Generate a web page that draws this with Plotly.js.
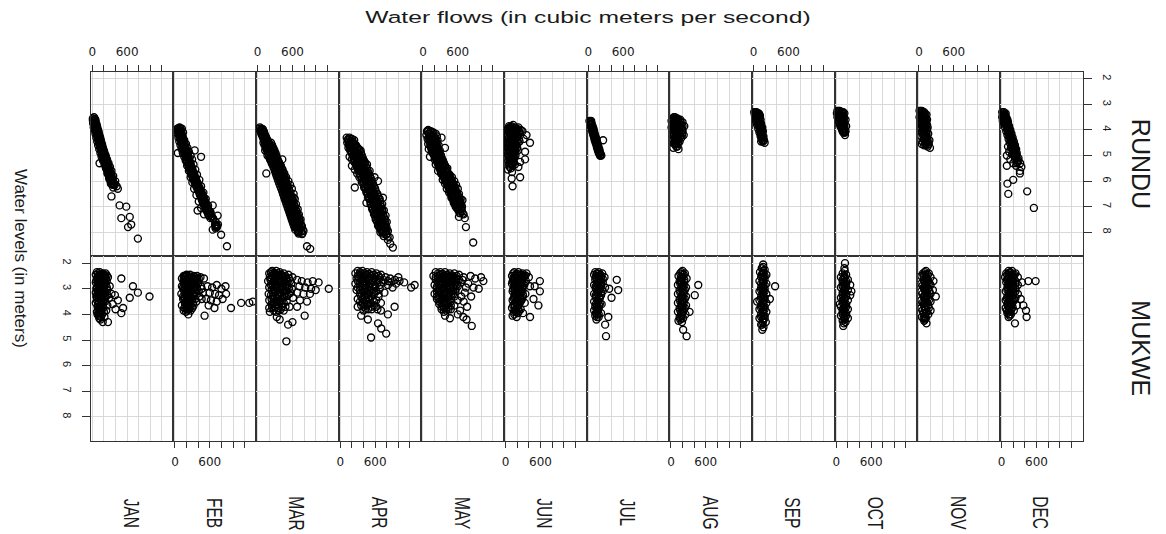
<!DOCTYPE html>
<html>
<head>
<meta charset="utf-8">
<script src="https://cdn.plot.ly/plotly-3.0.1.min.js"></script>
<style>
  html, body { margin: 0; padding: 0; background: #fff; overflow: hidden; }
  #wrap { width: 1166px; height: 534px; overflow: hidden; }
</style>
</head>
<body>
<div id="wrap"><div id="plot"></div></div>
<script>
// Monthly water flow (m3/s) against water level (m) at two gauging stations.
const MONTHS = ['JAN', 'FEB', 'MAR', 'APR', 'MAY', 'JUN', 'JUL', 'AUG', 'SEP', 'OCT', 'NOV', 'DEC'];
const STATIONS = ['RUNDU', 'MUKWE'];
const FLOW_TICKS = [0, 200, 400, 600, 800, 1000, 1200];
const FLOW_TICK_TEXT = ['0', '', '', '600', '', '', ''];
const LEVEL_TICKS = [2, 3, 4, 5, 6, 7, 8];

// [flow, level] pairs
const RUNDU_JAN = [[10,3.55],[30,3.5],[50,3.6],[20,3.65],[45,3.7],[15,3.75],[60,3.75],[35,3.8],[70,3.85],[25,3.9],[55,3.9],[85,3.95],[40,4.0],[75,4.05],[100,4.1],[55,4.15],[90,4.2],[120,4.25],[70,4.3],[105,4.35],[140,4.4],[85,4.45],[125,4.5],[160,4.55],[100,4.6],[145,4.65],[180,4.7],[120,4.75],[165,4.8],[205,4.85],[140,4.9],[190,4.95],[230,5.0],[160,5.05],[215,5.1],[255,5.15],[185,5.2],[240,5.25],[125,5.3],[280,5.3],[210,5.35],[265,5.4],[305,5.45],[235,5.5],[290,5.55],[330,5.6],[260,5.7],[320,5.75],[360,5.8],[290,5.9],[350,5.95],[395,6.0],[320,6.1],[380,6.1],[420,6.2],[360,6.25],[440,6.3],[330,6.6],[385,6.15],[470,6.95],[585,7.0],[500,7.45],[645,7.4],[670,7.7],[615,7.8],[785,8.25],
  [10,3.62],[50,3.58],[20,3.72],[60,3.68],[35,3.82],[75,3.78],[45,3.92],[85,3.88],[60,4.02],[100,4.0],[70,4.12],[110,4.08],[80,4.22],[120,4.18],[95,4.32],[135,4.28],[105,4.42],[145,4.38],[115,4.52],[155,4.48],[130,4.62],[170,4.58],[140,4.72],[180,4.68],[155,4.82],[195,4.78],[165,4.92],[205,4.88],[180,5.02],[220,4.98],[195,5.12],[235,5.08],[205,5.22],[245,5.18],[220,5.32],[260,5.28],[235,5.42],[275,5.38],[245,5.52],[285,5.48],[260,5.62],[300,5.58],[275,5.72],[315,5.68],[290,5.82],[330,5.78],[300,5.92],[340,5.88],[315,6.02],[355,5.98],[330,6.12],[370,6.08],
  [35,3.65],[48,3.75],[60,3.85],[72,3.95],[85,4.05],[95,4.15],[108,4.25],[120,4.35],[130,4.45],[142,4.55],[155,4.65],[168,4.75],[180,4.85],[192,4.95],[208,5.05],[220,5.15],[232,5.25],[248,5.35],[260,5.45],[272,5.55],[288,5.65],[302,5.75],[315,5.85],[328,5.95],[342,6.05],[360,6.15]];
const RUNDU_FEB = [[40,3.95],[80,3.9],[120,3.95],[30,4.0],[60,4.05],[100,4.05],[140,4.1],[45,4.15],[85,4.2],[125,4.25],[60,4.3],[105,4.35],[160,4.4],[75,4.45],[130,4.5],[190,4.55],[95,4.6],[150,4.65],[215,4.7],[115,4.75],[175,4.8],[240,4.85],[135,4.9],[200,4.95],[270,5.0],[160,5.05],[225,5.1],[295,5.15],[185,5.2],[250,5.3],[320,5.35],[210,5.4],[280,5.5],[350,5.55],[240,5.6],[310,5.7],[380,5.75],[270,5.85],[340,5.9],[420,5.95],[300,6.05],[370,6.1],[450,6.2],[330,6.3],[410,6.35],[490,6.45],[370,6.55],[450,6.6],[530,6.7],[410,6.8],[490,6.85],[570,6.95],[450,7.05],[530,7.1],[610,7.2],[500,7.3],[580,7.35],[650,7.45],[700,7.6],[720,7.75],[700,7.8],[740,7.7],[340,4.8],[450,5.05],[50,4.9],[390,7.15],[650,6.95],[735,7.35],[795,8.1],[895,8.55],[650,7.9],
  [50,3.95],[100,3.97],[60,4.05],[110,4.07],[70,4.15],[120,4.17],[85,4.25],[135,4.27],[95,4.35],[145,4.37],[105,4.45],[155,4.47],[120,4.55],[170,4.57],[130,4.65],[180,4.67],[145,4.75],[195,4.77],[155,4.85],[205,4.87],[170,4.95],[220,4.97],[185,5.05],[235,5.07],[200,5.15],[250,5.17],[210,5.25],[260,5.27],[225,5.35],[275,5.37],[240,5.45],[290,5.47],[255,5.55],[305,5.57],[270,5.65],[320,5.67],[285,5.75],[335,5.77],[305,5.85],[355,5.87],[320,5.95],[370,5.97],[340,6.05],[390,6.07],[355,6.15],[405,6.17],[375,6.25],[425,6.27],[395,6.35],[445,6.37],[415,6.45],[465,6.47],[430,6.55],[480,6.57],[450,6.65],[500,6.67],[465,6.75],[515,6.77],[485,6.85],[535,6.87],[500,6.95],[550,6.97],[520,7.05],[570,7.07],[540,7.15],[590,7.17],[565,7.25],[615,7.27],[585,7.35],[635,7.37],[610,7.45],[660,7.47],[690,7.7],[715,7.72],[705,7.78],[725,7.8],[700,7.85],
  [75,3.92],[85,4.02],[95,4.12],[110,4.22],[120,4.32],[130,4.42],[145,4.52],[155,4.62],[170,4.72],[180,4.82],[195,4.92],[210,5.02],[225,5.12],[235,5.22],[250,5.32],[265,5.42],[280,5.52],[295,5.62],[310,5.72],[330,5.82],[345,5.92],[365,6.02],[380,6.12],[400,6.22],[420,6.32],[440,6.42],[455,6.52],[475,6.62],[490,6.72],[510,6.82],[525,6.92],[545,7.02],[565,7.12],[590,7.22],[610,7.32],[635,7.42]];
const RUNDU_MAR = [[40,3.9],[70,3.95],[50,4.0],[90,4.05],[60,4.1],[110,4.15],[75,4.2],[130,4.25],[95,4.3],[150,4.35],[110,4.4],[175,4.45],[130,4.5],[200,4.55],[150,4.6],[230,4.65],[170,4.7],[260,4.75],[130,4.8],[200,4.85],[290,4.9],[225,4.95],[170,5.0],[260,5.05],[320,5.1],[215,5.15],[290,5.2],[360,5.25],[250,5.3],[330,5.35],[400,5.4],[280,5.45],[360,5.5],[430,5.55],[150,5.7],[310,5.6],[390,5.65],[460,5.7],[340,5.75],[420,5.8],[490,5.85],[370,5.9],[450,5.95],[530,6.0],[400,6.05],[480,6.1],[560,6.15],[430,6.2],[510,6.25],[590,6.3],[450,6.4],[540,6.45],[620,6.5],[480,6.6],[570,6.65],[640,6.7],[510,6.8],[600,6.85],[660,6.9],[540,7.0],[630,7.05],[690,7.1],[560,7.2],[650,7.25],[710,7.3],[590,7.4],[680,7.45],[740,7.5],[620,7.6],[700,7.65],[760,7.75],[650,7.8],[730,7.85],[790,7.95],[700,8.0],[770,8.05],[425,5.15],[620,6.65],[850,8.55],[905,8.65],
  [30,3.95],[90,3.97],[50,4.05],[110,4.07],[65,4.15],[125,4.17],[85,4.25],[145,4.27],[105,4.35],[165,4.37],[125,4.45],[185,4.47],[145,4.55],[205,4.57],[165,4.65],[225,4.67],[185,4.75],[245,4.77],[205,4.85],[265,4.87],[220,4.95],[280,4.97],[235,5.05],[295,5.07],[250,5.15],[310,5.17],[270,5.25],[330,5.27],[285,5.35],[345,5.37],[310,5.45],[370,5.47],[325,5.55],[385,5.57],[340,5.65],[400,5.67],[355,5.75],[415,5.77],[370,5.85],[430,5.87],[385,5.95],[445,5.97],[400,6.05],[460,6.07],[415,6.15],[475,6.17],[435,6.25],[495,6.27],[450,6.35],[510,6.37],[465,6.45],[525,6.47],[480,6.55],[540,6.57],[495,6.65],[555,6.67],[510,6.75],[570,6.77],[525,6.85],[585,6.87],[540,6.95],[600,6.97],[555,7.05],[615,7.07],[570,7.15],[630,7.17],[585,7.25],[645,7.27],[600,7.35],[660,7.37],[615,7.45],[675,7.47],[630,7.55],[690,7.57],[645,7.65],[705,7.67],[660,7.75],[720,7.77],[675,7.85],[735,7.87],[690,7.95],[750,7.97],[705,8.05],[765,8.07],
  [100,4.5],[230,4.5],[120,4.6],[250,4.6],[140,4.7],[270,4.7],[160,4.8],[290,4.8],[178,4.9],[308,4.9],[193,5.0],[323,5.0],[207,5.1],[337,5.1],[225,5.2],[355,5.2],[243,5.3],[373,5.3],[263,5.4],[393,5.4],[283,5.5],[413,5.5],[297,5.6],[427,5.6],[313,5.7],[443,5.7],[327,5.8],[457,5.8],[343,5.9],[473,5.9],[357,6.0],[487,6.0],[373,6.1],[503,6.1],[390,6.2],[520,6.2],[407,6.3],[537,6.3],[423,6.4],[553,6.4],[437,6.5],[567,6.5],[453,6.6],[583,6.6],[467,6.7],[597,6.7],[483,6.8],[613,6.8],[497,6.9],[627,6.9],[513,7.0],[643,7.0],[527,7.1],[657,7.1],[543,7.2],[673,7.2],[557,7.3],[687,7.3],[573,7.4],[703,7.4],[587,7.5],[717,7.5],[603,7.6],[733,7.6],[617,7.7],[747,7.7],[633,7.8],[763,7.8],[647,7.9],[777,7.9],
  [165,4.52],[205,4.72],[243,4.92],[272,5.12],[308,5.32],[348,5.52],[378,5.72],[408,5.92],[438,6.12],[472,6.32],[502,6.52],[532,6.72],[562,6.92],[592,7.12],[622,7.32],[652,7.52],[682,7.72],[712,7.92]];
const RUNDU_APR = [[110,4.3],[160,4.3],[200,4.35],[130,4.4],[240,4.4],[180,4.45],[120,4.5],[220,4.5],[150,4.55],[260,4.6],[190,4.65],[140,4.7],[300,4.7],[230,4.75],[170,4.8],[350,4.8],[270,4.85],[200,4.9],[310,4.95],[390,5.2],[240,5.0],[160,5.05],[350,5.05],[280,5.1],[200,5.15],[320,5.2],[420,5.25],[240,5.25],[360,5.3],[280,5.35],[460,5.35],[200,5.4],[400,5.45],[320,5.5],[505,5.6],[250,5.55],[440,5.6],[360,5.65],[590,5.85],[290,5.7],[480,5.75],[400,5.8],[250,6.25],[330,5.85],[520,5.9],[440,5.95],[650,6.0],[370,6.05],[560,6.1],[480,6.15],[410,6.25],[600,6.3],[520,6.35],[450,6.45],[640,6.5],[560,6.55],[735,6.65],[480,6.65],[680,6.7],[600,6.75],[450,6.85],[520,6.9],[720,6.9],[640,7.0],[550,7.1],[750,7.15],[670,7.2],[580,7.3],[780,7.35],[700,7.4],[610,7.5],[800,7.6],[730,7.65],[650,7.75],[760,7.85],[820,7.95],[690,8.0],[790,8.1],[850,8.2],[820,8.3],[860,8.45],[905,8.6],
  [135,4.35],[205,4.37],[145,4.45],[215,4.47],[165,4.55],[235,4.57],[185,4.65],[255,4.67],[215,4.75],[285,4.77],[235,4.85],[305,4.87],[250,4.95],[320,4.97],[265,5.05],[335,5.07],[285,5.15],[355,5.17],[300,5.25],[370,5.27],[315,5.35],[385,5.37],[330,5.45],[400,5.47],[350,5.55],[420,5.57],[365,5.65],[435,5.67],[385,5.75],[455,5.77],[405,5.85],[475,5.87],[420,5.95],[490,5.97],[435,6.05],[505,6.07],[455,6.15],[525,6.17],[470,6.25],[540,6.27],[490,6.35],[560,6.37],[505,6.45],[575,6.47],[525,6.55],[595,6.57],[540,6.65],[610,6.67],[555,6.75],[625,6.77],[570,6.85],[640,6.87],[580,6.95],[650,6.97],[595,7.05],[665,7.07],[610,7.15],[680,7.17],[620,7.25],[690,7.27],[635,7.35],[705,7.37],[650,7.45],[720,7.47],[660,7.55],[730,7.57],[675,7.65],[745,7.67],[690,7.75],[760,7.77],[705,7.85],[775,7.87],[715,7.95],[785,7.97],[730,8.05],[800,8.07],[745,8.15],[815,8.17],
  [150,4.6],[270,4.6],[170,4.7],[300,4.7],[190,4.8],[330,4.8],[200,4.9],[356,4.9],[212,5.0],[372,5.0],[230,5.1],[390,5.1],[248,5.2],[408,5.2],[262,5.3],[422,5.3],[278,5.4],[438,5.4],[295,5.5],[455,5.5],[312,5.6],[472,5.6],[330,5.7],[490,5.7],[350,5.8],[510,5.8],[368,5.9],[528,5.9],[382,6.0],[542,6.0],[400,6.1],[560,6.1],[418,6.2],[578,6.2],[435,6.3],[595,6.3],[452,6.4],[612,6.4],[470,6.5],[630,6.5],[488,6.6],[648,6.6],[502,6.7],[662,6.7],[518,6.8],[678,6.8],[530,6.9],[690,6.9],[542,7.0],[702,7.0],[558,7.1],[718,7.1],[575,7.2],[725,7.2],[590,7.3],[735,7.3],[605,7.4],[750,7.4],[620,7.5],[760,7.5],[635,7.6],[770,7.6],[655,7.7],[780,7.7],[670,7.8],[795,7.8],[690,7.9],[800,7.9],
  [190,4.52],[235,4.72],[278,4.92],[310,5.12],[342,5.32],[375,5.52],[410,5.72],[448,5.92],[480,6.12],[515,6.32],[550,6.52],[582,6.72],[610,6.92],[638,7.12],[662,7.32],[690,7.52],[718,7.72],[745,7.92]];
const RUNDU_MAY = [[90,4.0],[70,4.05],[130,4.05],[180,4.1],[100,4.15],[220,4.15],[60,4.2],[150,4.2],[240,4.25],[110,4.3],[200,4.3],[80,4.35],[170,4.4],[250,4.4],[120,4.45],[210,4.5],[90,4.55],[160,4.6],[270,4.6],[130,4.65],[230,4.7],[100,4.75],[190,4.8],[290,4.8],[150,4.85],[250,4.9],[180,4.95],[310,5.0],[120,5.05],[220,5.05],[280,5.1],[200,5.15],[340,5.2],[250,5.25],[310,5.3],[220,5.35],[380,5.4],[280,5.45],[420,5.5],[340,5.55],[260,5.6],[400,5.65],[310,5.7],[460,5.75],[370,5.8],[500,5.85],[420,5.9],[340,5.95],[540,6.0],[450,6.05],[380,6.1],[570,6.15],[480,6.2],[410,6.3],[600,6.3],[510,6.35],[450,6.45],[620,6.5],[540,6.55],[490,6.65],[650,6.7],[570,6.75],[530,6.85],[680,6.75],[620,6.95],[580,7.05],[660,7.1],[640,7.25],[700,7.3],[620,7.4],[720,7.45],[320,4.3],[380,4.7],[740,7.8],[865,8.4],
  [90,4.05],[150,4.07],[105,4.15],[165,4.17],[120,4.25],[180,4.27],[130,4.35],[190,4.37],[140,4.45],[200,4.47],[150,4.55],[210,4.57],[160,4.65],[220,4.67],[170,4.75],[230,4.77],[190,4.85],[250,4.87],[210,4.95],[270,4.97],[230,5.05],[290,5.07],[250,5.15],[310,5.17],[270,5.25],[330,5.27],[285,5.35],[345,5.37],[300,5.45],[360,5.47],[320,5.55],[380,5.57],[340,5.65],[400,5.67],[360,5.75],[420,5.77],[380,5.85],[440,5.87],[405,5.95],[465,5.97],[425,6.05],[485,6.07],[445,6.15],[505,6.17],[465,6.25],[525,6.27],[480,6.35],[540,6.37],[500,6.45],[560,6.47],[515,6.55],[575,6.57],[530,6.65],[590,6.67],[550,6.75],[610,6.77],[565,6.85],[625,6.87],[580,6.95],[640,6.97],[595,7.05],[655,7.07],[610,7.15],[670,7.17],[630,7.25],[685,7.27],
  [100,4.3],[210,4.3],[110,4.4],[220,4.4],[120,4.5],[230,4.5],[130,4.6],[240,4.6],[140,4.7],[250,4.7],[155,4.8],[265,4.8],[175,4.9],[285,4.9],[195,5.0],[305,5.0],[215,5.1],[325,5.1],[235,5.2],[345,5.2],[253,5.3],[363,5.3],[267,5.4],[377,5.4],[285,5.5],[395,5.5],[305,5.6],[415,5.6],[325,5.7],[435,5.7],[345,5.8],[455,5.8],[367,5.9],[477,5.9],[390,6.0],[500,6.0],[410,6.1],[520,6.1],[430,6.2],[540,6.2],[447,6.3],[557,6.3],[465,6.4],[575,6.4],[483,6.5],[593,6.5],[497,6.6],[607,6.6],[515,6.7],[625,6.7],[533,6.8],[643,6.8],[547,6.9],[657,6.9],[563,7.0],[673,7.0],
  [155,4.32],[175,4.52],[195,4.72],[230,4.92],[270,5.12],[308,5.32],[340,5.52],[380,5.72],[422,5.92],[465,6.12],[502,6.32],[538,6.52],[570,6.72],[602,6.92],[632,7.12]];
const RUNDU_JUN = [[130,3.8],[60,3.85],[100,3.85],[170,3.9],[220,3.9],[40,3.95],[80,3.95],[140,4.0],[200,4.0],[260,4.0],[50,4.05],[110,4.1],[170,4.1],[230,4.15],[30,4.2],[80,4.2],[140,4.25],[200,4.3],[50,4.35],[110,4.35],[170,4.4],[240,4.45],[70,4.5],[130,4.5],[40,4.6],[190,4.6],[100,4.65],[150,4.75],[60,4.8],[210,4.8],[110,4.9],[40,4.95],[170,5.0],[80,5.05],[130,5.15],[50,5.2],[100,5.3],[160,5.35],[70,5.45],[220,5.45],[40,5.55],[110,5.65],[360,4.2],[420,4.5],[335,4.85],[335,5.15],[250,5.85],[105,5.9],[120,6.2],[290,4.05],[310,4.35],[250,5.25],
  [70,3.9],[120,3.9],[190,3.95],[30,4.0],[90,4.0],[160,4.05],[230,4.05],[60,4.1],[130,4.15],[200,4.2],[40,4.25],[100,4.25],[170,4.3],[230,4.35],[70,4.4],[140,4.4],[40,4.45],[100,4.5],[170,4.55],[60,4.6],[130,4.6],[200,4.7],[80,4.7],[40,4.75],[120,4.8],[170,4.85],[70,4.9],[140,4.95],[50,5.0],[100,5.0],[120,5.1],[70,5.15],[90,5.2],[140,5.25],[60,5.35],[120,5.4],[90,5.5],
  [90,3.92],[150,3.95],[210,3.98],[60,4.02],[120,4.05],[180,4.08],[240,4.1],[90,4.15],[150,4.18],[210,4.25],[60,4.28],[120,4.3],[180,4.35],[90,4.38],[150,4.45],[210,4.48],[60,4.52],[120,4.55],[180,4.62],[90,4.62],[150,4.68],[60,4.68],[110,4.75],[170,4.78],[80,4.82],[140,4.88],[100,4.95],[60,5.05],[150,5.05],[100,5.12],[80,5.28],[120,5.32]];
const RUNDU_JUL = [[20,3.65],[50,3.65],[30,3.7],[60,3.75],[40,3.8],[75,3.85],[50,3.9],[90,3.95],[60,4.0],[100,4.05],[75,4.1],[110,4.15],[85,4.2],[125,4.25],[100,4.3],[140,4.35],[110,4.4],[150,4.45],[125,4.5],[165,4.55],[140,4.6],[175,4.65],[150,4.7],[190,4.75],[165,4.8],[200,4.85],[180,4.9],[215,4.95],[200,5.0],[225,5.0],[255,4.4],
  [35,3.68],[45,3.75],[55,3.82],[65,3.9],[70,3.95],[80,4.0],[90,4.08],[95,4.15],[105,4.2],[115,4.28],[120,4.35],[130,4.42],[140,4.5],[150,4.55],[155,4.62],[165,4.7],[175,4.78],[185,4.85],[195,4.92],[210,5.0],
  [45,3.7],[55,3.78],[68,3.87],[78,3.97],[88,4.03],[100,4.12],[110,4.22],[122,4.3],[132,4.38],[142,4.47],[152,4.57],[162,4.66],[172,4.74],[182,4.82],[192,4.9]];
const RUNDU_AUG = [[70,3.5],[30,3.55],[110,3.55],[160,3.6],[10,3.65],[60,3.65],[130,3.7],[200,3.7],[40,3.75],[100,3.8],[170,3.8],[230,3.85],[10,3.9],[70,3.9],[140,3.95],[200,4.0],[40,4.0],[110,4.05],[170,4.1],[20,4.1],[80,4.15],[220,4.2],[140,4.2],[50,4.25],[110,4.3],[180,4.3],[30,4.4],[80,4.4],[150,4.45],[60,4.55],[120,4.55],[90,4.65],[130,4.75],[40,4.7],
  [50,3.5],[90,3.55],[130,3.6],[20,3.6],[80,3.7],[170,3.7],[20,3.75],[60,3.8],[140,3.8],[200,3.85],[40,3.85],[100,3.9],[170,3.95],[20,3.95],[60,4.05],[140,4.05],[200,4.1],[100,4.15],[30,4.2],[160,4.25],[70,4.3],[130,4.35],[100,4.45],[50,4.5],[90,4.55],[110,4.65],
  [90,3.6],[50,3.7],[110,3.72],[150,3.75],[80,3.82],[120,3.88],[180,3.9],[50,3.95],[110,3.98],[80,4.02],[150,4.0],[130,4.12],[50,4.15],[90,4.22],[190,4.2],[120,4.25],[60,4.35],[100,4.38],[130,4.45],[80,4.5]];
const RUNDU_SEP = [[10,3.3],[50,3.3],[90,3.35],[20,3.4],[70,3.45],[110,3.45],[30,3.55],[80,3.55],[120,3.6],[40,3.65],[90,3.7],[130,3.75],[60,3.8],[110,3.85],[150,3.9],[80,3.95],[130,4.0],[160,4.05],[100,4.1],[150,4.15],[120,4.25],[170,4.25],[140,4.35],[180,4.4],[130,4.45],[190,4.5],
  [30,3.3],[70,3.35],[40,3.4],[100,3.4],[50,3.5],[90,3.5],[60,3.6],[100,3.6],[70,3.7],[110,3.75],[80,3.8],[130,3.85],[100,3.9],[110,4.0],[140,4.05],[120,4.1],[130,4.2],[160,4.3],[150,4.4],[160,4.45],
  [40,3.35],[80,3.42],[60,3.48],[100,3.55],[70,3.62],[100,3.68],[90,3.78],[120,3.8],[100,3.85],[120,3.92],[140,3.95],[120,4.05],[140,4.15],[150,4.25],[140,4.3]];
const RUNDU_OCT = [[20,3.25],[60,3.25],[100,3.3],[10,3.35],[140,3.35],[50,3.4],[90,3.45],[130,3.5],[20,3.5],[70,3.55],[160,3.6],[110,3.6],[40,3.65],[90,3.7],[140,3.75],[60,3.8],[120,3.85],[170,3.85],[80,3.9],[140,3.95],[100,4.0],[160,4.05],[120,4.1],[150,4.2],
  [40,3.25],[80,3.3],[120,3.3],[30,3.4],[70,3.4],[110,3.45],[50,3.5],[90,3.55],[130,3.6],[60,3.6],[110,3.7],[70,3.75],[100,3.8],[140,3.85],[100,3.9],[120,3.95],[130,4.05],[140,4.1],
  [50,3.3],[90,3.35],[60,3.45],[100,3.5],[80,3.6],[120,3.65],[90,3.75],[130,3.8],[110,3.88],[130,3.98],[150,4.1],[110,4.05]];
const RUNDU_NOV = [[10,3.25],[50,3.25],[90,3.3],[20,3.35],[130,3.4],[60,3.45],[10,3.5],[100,3.5],[40,3.6],[140,3.6],[80,3.65],[20,3.7],[120,3.75],[60,3.8],[100,3.85],[30,3.9],[150,3.9],[80,4.0],[120,4.05],[50,4.1],[160,4.15],[100,4.2],[40,4.25],[140,4.3],[80,4.35],[180,4.4],[60,4.45],[120,4.5],[170,4.55],[90,4.6],[150,4.65],[190,4.7],[50,4.55],
  [30,3.25],[70,3.3],[40,3.4],[110,3.4],[80,3.45],[30,3.55],[60,3.55],[120,3.6],[40,3.7],[100,3.7],[80,3.8],[140,3.8],[50,3.85],[110,3.9],[60,4.0],[140,4.0],[90,4.1],[130,4.15],[70,4.2],[110,4.3],[150,4.4],[100,4.45],[130,4.55],
  [40,3.3],[80,3.38],[50,3.48],[90,3.55],[60,3.65],[110,3.65],[70,3.75],[90,3.82],[130,3.85],[80,3.92],[100,3.98],[120,4.1],[90,4.18],[130,4.25],[100,4.38],[130,4.45],[110,4.55],[150,4.58]];
const RUNDU_DEC = [[10,3.3],[40,3.3],[70,3.35],[20,3.4],[55,3.45],[10,3.5],[80,3.5],[40,3.55],[100,3.6],[20,3.65],[70,3.65],[110,3.7],[45,3.75],[90,3.8],[130,3.85],[60,3.9],[110,3.95],[150,4.0],[80,4.05],[130,4.1],[170,4.15],[100,4.2],[150,4.25],[190,4.3],[120,4.35],[170,4.4],[210,4.45],[140,4.5],[190,4.55],[230,4.6],[110,4.65],[160,4.7],[250,4.75],[210,4.8],[130,4.85],[260,4.9],[180,4.95],[90,5.0],[230,5.05],[290,5.1],[150,5.15],[270,5.2],[200,5.3],[320,5.3],[90,5.4],[250,5.4],[340,5.45],[315,5.6],[315,5.7],[200,5.95],[100,6.1],[115,6.5],[440,6.4],[555,7.05],
  [30,3.35],[60,3.4],[30,3.5],[60,3.55],[90,3.6],[40,3.65],[90,3.7],[60,3.75],[110,3.8],[80,3.85],[130,3.95],[100,4.0],[150,4.1],[120,4.15],[170,4.25],[140,4.3],[190,4.4],[160,4.45],[210,4.55],[170,4.6],[230,4.7],[190,4.75],[240,4.85],[210,4.9],[260,5.0],[230,5.15],[290,5.2],[260,5.3],
  [40,3.42],[50,3.5],[70,3.58],[60,3.68],[80,3.75],[100,3.82],[100,3.9],[120,3.98],[120,4.05],[140,4.12],[150,4.2],[160,4.32],[170,4.38],[180,4.48],[190,4.58],[200,4.65],[210,4.72],[220,4.82],[230,4.9],[240,4.98],[250,5.08],[270,5.25]];

const MUKWE_JAN = [[80,2.35],[130,2.35],[180,2.4],[230,2.4],[60,2.45],[110,2.5],[160,2.5],[210,2.55],[270,2.55],[80,2.6],[140,2.65],[190,2.7],[250,2.7],[60,2.75],[120,2.8],[170,2.85],[230,2.85],[300,2.9],[80,2.95],[150,3.0],[200,3.0],[260,3.05],[100,3.1],[60,3.15],[180,3.15],[330,3.2],[130,3.25],[230,3.3],[80,3.35],[290,3.35],[170,3.4],[110,3.5],[220,3.5],[60,3.55],[350,3.6],[150,3.6],[260,3.65],[90,3.7],[190,3.75],[400,3.8],[130,3.85],[240,3.85],[80,3.9],[170,4.0],[110,4.05],[210,4.1],[140,4.2],[180,4.3],[500,2.6],[700,2.9],[785,3.15],[645,3.35],[985,3.3],[530,3.75],[500,3.95],[270,4.3],[390,3.25],[440,3.45],
  [100,2.4],[150,2.42],[200,2.45],[250,2.48],[90,2.55],[140,2.58],[190,2.6],[240,2.62],[70,2.68],[120,2.7],[170,2.75],[220,2.78],[100,2.85],[150,2.9],[200,2.92],[250,2.95],[70,3.0],[120,3.05],[170,3.08],[220,3.1],[90,3.2],[140,3.2],[190,3.25],[260,3.25],[70,3.3],[110,3.35],[160,3.35],[210,3.4],[80,3.45],[140,3.48],[190,3.55],[100,3.6],[130,3.7],[160,3.8],[100,3.8],[200,3.9],[140,3.95],[90,4.0],[150,4.1],[120,4.15],
  [125,2.45],[175,2.5],[225,2.52],[115,2.62],[165,2.65],[215,2.68],[95,2.75],[145,2.78],[195,2.82],[125,2.92],[175,2.95],[95,3.05],[145,3.1],[195,3.15],[115,3.22],[165,3.28],[215,3.32],[135,3.4],[185,3.45],[110,3.55],[160,3.58],[130,3.65],[180,3.68],[120,3.75],[150,3.9],[110,3.95],[130,4.05]];
const MUKWE_FEB = [[150,2.5],[200,2.45],[260,2.45],[320,2.5],[380,2.5],[440,2.55],[120,2.6],[180,2.6],[240,2.6],[300,2.65],[360,2.65],[500,2.6],[150,2.75],[210,2.75],[270,2.8],[330,2.8],[400,2.8],[120,2.9],[190,2.9],[250,2.95],[310,2.95],[380,3.0],[460,3.0],[150,3.05],[220,3.1],[280,3.1],[350,3.15],[110,3.2],[180,3.25],[250,3.25],[320,3.3],[420,3.3],[140,3.4],[210,3.4],[290,3.45],[370,3.5],[170,3.55],[240,3.6],[120,3.65],[320,3.65],[200,3.75],[150,3.85],[270,3.85],[230,4.0],[510,4.05],[560,2.9],[640,2.95],[720,2.85],[800,3.0],[870,2.9],[600,3.15],[690,3.2],[760,3.25],[880,3.2],[540,3.4],[620,3.45],[720,3.5],[820,3.4],[580,3.65],[680,3.75],[965,3.75],[1140,3.55],[1280,3.55],[1340,3.5],
  [170,2.5],[230,2.5],[290,2.55],[350,2.55],[410,2.6],[150,2.65],[210,2.68],[270,2.7],[330,2.72],[390,2.72],[180,2.8],[240,2.85],[300,2.85],[360,2.9],[140,2.95],[210,3.0],[270,3.0],[330,3.05],[410,3.1],[180,3.15],[250,3.15],[310,3.2],[140,3.3],[210,3.3],[280,3.35],[350,3.4],[170,3.45],[240,3.5],[310,3.55],[200,3.6],[270,3.7],[160,3.75],[230,3.8],[190,3.9],[300,3.75],[450,2.9],[480,3.15],[460,3.4],
  [190,2.52],[250,2.55],[310,2.6],[370,2.6],[170,2.7],[230,2.72],[290,2.75],[350,2.78],[160,2.85],[220,2.88],[280,2.92],[340,2.95],[170,3.0],[240,3.05],[300,3.08],[200,3.2],[260,3.22],[330,3.25],[160,3.35],[230,3.38],[300,3.42],[190,3.5],[260,3.55],[220,3.65],[180,3.68],[250,3.78],[210,3.85]];
const MUKWE_MAR = [[250,2.3],[320,2.3],[380,2.35],[200,2.4],[450,2.4],[280,2.45],[530,2.45],[350,2.5],[210,2.55],[420,2.55],[600,2.55],[290,2.6],[490,2.6],[180,2.7],[370,2.7],[560,2.7],[250,2.8],[440,2.8],[320,2.9],[510,2.9],[200,2.95],[400,3.0],[590,3.0],[280,3.05],[470,3.1],[190,3.2],[350,3.2],[540,3.2],[260,3.3],[430,3.35],[610,3.35],[200,3.45],[330,3.45],[500,3.5],[270,3.6],[410,3.6],[200,3.75],[350,3.75],[550,3.7],[280,3.85],[450,3.85],[680,2.65],[760,2.7],[860,2.75],[950,2.7],[1050,2.75],[720,2.9],[820,2.95],[920,3.0],[680,3.15],[790,3.2],[900,3.2],[1000,3.05],[730,3.45],[850,3.5],[680,3.7],[1225,3.0],[810,4.05],[525,4.4],[380,4.2],[495,5.05],[210,3.9],[600,4.3],[330,4.1],
  [230,2.35],[290,2.38],[350,2.4],[410,2.45],[480,2.5],[250,2.5],[320,2.55],[390,2.6],[460,2.65],[540,2.6],[220,2.65],[290,2.7],[350,2.75],[420,2.75],[500,2.8],[580,2.8],[230,2.85],[290,2.95],[360,2.95],[440,2.95],[540,3.0],[240,3.05],[310,3.1],[390,3.15],[480,3.2],[570,3.15],[230,3.25],[300,3.3],[380,3.3],[460,3.3],[240,3.4],[300,3.5],[370,3.5],[450,3.55],[240,3.6],[330,3.65],[480,3.7],[250,3.75],[400,3.8],[320,3.9],
  [260,2.4],[330,2.45],[400,2.5],[460,2.55],[240,2.6],[310,2.62],[380,2.68],[450,2.72],[520,2.72],[270,2.75],[340,2.85],[410,2.88],[480,2.9],[260,2.92],[330,3.0],[420,3.05],[500,3.08],[270,3.15],[350,3.25],[420,3.25],[510,3.28],[280,3.4],[350,3.38],[420,3.45],[280,3.55],[350,3.6],[420,3.7],[300,3.72],[360,3.85]];
const MUKWE_APR = [[300,2.3],[380,2.3],[460,2.35],[260,2.4],[540,2.35],[620,2.4],[340,2.45],[420,2.5],[700,2.45],[500,2.55],[280,2.6],[780,2.55],[580,2.6],[360,2.65],[860,2.6],[660,2.65],[440,2.7],[940,2.65],[260,2.8],[520,2.8],[740,2.75],[1020,2.7],[340,2.9],[600,2.9],[820,2.85],[1100,2.75],[420,3.0],[280,3.05],[680,3.0],[900,2.95],[500,3.1],[340,3.2],[580,3.2],[760,3.15],[420,3.3],[660,3.3],[300,3.4],[500,3.4],[580,3.5],[380,3.55],[700,3.55],[460,3.65],[300,3.7],[620,3.7],[540,3.8],[400,3.85],[700,3.85],[1220,2.95],[1280,2.85],[935,3.7],[820,4.0],[360,4.05],[475,4.2],[650,4.35],[705,4.55],[790,4.75],[530,4.9],[1000,2.55],
  [340,2.35],[420,2.4],[500,2.42],[580,2.45],[660,2.5],[300,2.5],[380,2.55],[460,2.6],[540,2.65],[620,2.7],[740,2.65],[820,2.7],[300,2.7],[380,2.75],[460,2.8],[560,2.85],[680,2.85],[300,2.95],[380,2.95],[460,3.0],[540,3.05],[620,3.1],[400,3.15],[480,3.2],[660,3.2],[360,3.3],[540,3.3],[440,3.45],[620,3.45],[340,3.5],[520,3.55],[400,3.7],[580,3.65],[480,3.8],[640,3.8],[880,2.75],[960,2.8],
  [360,2.4],[440,2.45],[520,2.48],[600,2.52],[680,2.58],[320,2.58],[400,2.62],[480,2.68],[560,2.72],[640,2.78],[340,2.8],[420,2.85],[500,2.9],[600,2.95],[340,3.05],[420,3.1],[500,3.15],[580,3.12],[440,3.25],[380,3.4],[480,3.35],[560,3.42],[420,3.55],[480,3.6],[540,3.7],[440,3.78],[360,3.65]];
const MUKWE_MAY = [[220,2.35],[300,2.35],[380,2.35],[460,2.4],[540,2.4],[620,2.45],[180,2.5],[260,2.5],[340,2.5],[420,2.55],[500,2.55],[580,2.6],[700,2.55],[220,2.65],[300,2.7],[380,2.7],[460,2.7],[540,2.75],[650,2.75],[200,2.85],[280,2.85],[360,2.9],[440,2.9],[520,2.95],[600,2.9],[240,3.0],[320,3.05],[400,3.1],[480,3.1],[560,3.1],[200,3.2],[280,3.25],[360,3.25],[440,3.3],[540,3.3],[240,3.4],[320,3.45],[400,3.5],[480,3.5],[600,3.45],[280,3.6],[360,3.65],[440,3.7],[540,3.65],[320,3.8],[400,3.85],[820,2.5],[900,2.6],[1000,2.55],[1040,2.7],[780,2.8],[870,2.95],[960,3.0],[720,3.15],[830,3.3],[700,3.5],[760,3.7],[640,3.85],[465,4.15],[695,4.1],[750,4.2],[840,4.45],[380,4.05],[600,4.0],
  [260,2.4],[340,2.42],[420,2.45],[500,2.48],[580,2.5],[220,2.55],[300,2.58],[380,2.6],[460,2.62],[540,2.65],[620,2.65],[260,2.75],[340,2.78],[420,2.8],[500,2.82],[580,2.85],[240,2.92],[320,2.95],[400,2.98],[480,3.0],[560,3.02],[280,3.12],[360,3.15],[440,3.18],[520,3.2],[240,3.3],[320,3.35],[400,3.38],[480,3.4],[280,3.5],[360,3.55],[440,3.58],[320,3.7],[400,3.75],[480,3.8],[360,3.9],[680,2.65],[740,2.95],[660,3.3],
  [300,2.45],[380,2.48],[460,2.52],[540,2.55],[260,2.62],[340,2.65],[420,2.68],[500,2.68],[580,2.72],[300,2.8],[380,2.82],[460,2.85],[540,2.88],[280,2.98],[360,3.0],[440,3.05],[520,3.08],[240,3.12],[320,3.18],[400,3.22],[480,3.25],[280,3.38],[360,3.4],[440,3.45],[320,3.55],[400,3.62],[480,3.65],[360,3.75],[440,3.8]];
const MUKWE_JUN = [[150,2.35],[220,2.35],[290,2.4],[360,2.4],[110,2.5],[180,2.5],[250,2.5],[320,2.55],[400,2.55],[140,2.65],[210,2.65],[280,2.7],[350,2.7],[110,2.8],[180,2.8],[250,2.85],[320,2.85],[420,2.9],[150,2.95],[220,3.0],[290,3.0],[120,3.1],[190,3.15],[260,3.15],[340,3.2],[150,3.3],[220,3.3],[290,3.35],[120,3.45],[190,3.45],[260,3.5],[330,3.55],[150,3.6],[220,3.65],[110,3.75],[180,3.8],[260,3.8],[140,3.9],[210,3.95],[300,3.95],[120,4.05],[190,4.1],[590,2.7],[590,3.1],[565,3.65],[420,4.1],[480,3.4],[500,2.9],
  [130,2.4],[200,2.42],[270,2.45],[340,2.48],[160,2.58],[230,2.6],[300,2.62],[120,2.72],[190,2.72],[260,2.76],[330,2.78],[150,2.88],[220,2.9],[290,2.92],[130,3.02],[190,3.05],[260,3.08],[160,3.22],[230,3.22],[300,3.25],[140,3.38],[210,3.38],[280,3.42],[170,3.52],[240,3.55],[130,3.65],[200,3.7],[160,3.85],[230,3.88],[150,4.0],
  [170,2.45],[240,2.48],[310,2.5],[130,2.6],[200,2.62],[270,2.65],[150,2.75],[220,2.78],[290,2.8],[180,2.92],[250,2.95],[160,3.08],[220,3.12],[290,3.1],[180,3.25],[250,3.28],[170,3.4],[240,3.45],[200,3.58],[160,3.7],[220,3.78],[180,3.92]];
const MUKWE_JUL = [[120,2.35],[180,2.35],[240,2.4],[100,2.45],[160,2.5],[220,2.55],[280,2.55],[120,2.65],[190,2.7],[250,2.75],[100,2.85],[160,2.85],[220,2.9],[290,2.95],[130,3.0],[190,3.05],[250,3.1],[100,3.2],[160,3.2],[220,3.25],[130,3.35],[190,3.4],[100,3.5],[160,3.55],[230,3.6],[120,3.7],[180,3.75],[100,3.85],[150,3.9],[220,3.95],[120,4.05],[180,4.1],[140,4.2],[490,2.65],[515,3.05],[400,3.35],[345,4.1],[290,4.4],[305,4.85],[360,3.0],
  [150,2.4],[210,2.45],[130,2.55],[190,2.6],[250,2.62],[150,2.75],[220,2.78],[130,2.9],[190,2.95],[160,3.1],[220,3.15],[130,3.25],[190,3.3],[160,3.45],[130,3.6],[190,3.65],[150,3.8],[130,3.95],[180,4.0],[150,4.1],
  [170,2.42],[140,2.6],[210,2.68],[170,2.8],[150,2.95],[210,3.0],[170,3.15],[140,3.3],[200,3.35],[170,3.5],[200,3.58],[150,3.68],[170,3.85],[150,4.0]];
const MUKWE_AUG = [[200,2.3],[160,2.4],[240,2.4],[130,2.5],[200,2.55],[270,2.6],[150,2.7],[230,2.75],[120,2.85],[190,2.9],[260,2.95],[150,3.05],[220,3.1],[120,3.2],[190,3.25],[260,3.3],[150,3.4],[220,3.45],[120,3.55],[190,3.6],[260,3.65],[150,3.75],[220,3.8],[120,3.9],[180,3.95],[250,4.0],[150,4.1],[210,4.15],[130,4.25],[190,4.3],[470,2.85],[410,3.25],[210,4.6],[270,4.85],[320,3.9],
  [180,2.35],[220,2.45],[170,2.55],[230,2.65],[190,2.75],[160,2.8],[220,2.88],[180,3.0],[240,3.05],[160,3.15],[220,3.2],[180,3.35],[240,3.4],[160,3.5],[220,3.55],[180,3.7],[240,3.75],[160,3.85],[210,3.9],[180,4.05],[160,4.2],
  [200,2.42],[190,2.6],[170,2.72],[200,2.95],[200,3.12],[200,3.3],[190,3.48],[200,3.65],[190,3.8],[190,4.0],[180,4.15]];
const MUKWE_SEP = [[165,2.05],[140,2.2],[190,2.25],[110,2.35],[170,2.4],[220,2.45],[130,2.55],[190,2.6],[100,2.7],[160,2.75],[220,2.8],[370,2.9],[130,2.95],[190,3.0],[100,3.1],[160,3.15],[220,3.2],[130,3.3],[190,3.35],[100,3.45],[160,3.5],[220,3.55],[130,3.65],[190,3.7],[100,3.8],[160,3.85],[220,3.9],[130,4.0],[190,4.05],[100,4.15],[160,4.2],[210,4.3],[130,4.4],[170,4.5],[150,4.6],[280,3.4],[60,3.5],
  [165,2.3],[140,2.45],[190,2.5],[160,2.65],[130,2.8],[190,2.85],[160,2.95],[130,3.05],[190,3.1],[160,3.25],[130,3.4],[190,3.45],[160,3.6],[130,3.75],[190,3.8],[160,3.95],[130,4.1],[190,4.15],[160,4.3],
  [165,2.15],[160,2.38],[165,2.55],[170,2.72],[160,2.88],[165,3.05],[160,3.2],[165,3.38],[160,3.55],[165,3.7],[160,3.88],[165,4.05],[160,4.22],[150,4.4]];
const MUKWE_OCT = [[150,2.0],[140,2.2],[110,2.4],[170,2.45],[80,2.55],[140,2.6],[200,2.65],[110,2.75],[170,2.8],[240,2.85],[80,2.95],[140,3.0],[200,3.05],[110,3.15],[170,3.2],[240,3.25],[80,3.35],[140,3.4],[200,3.45],[110,3.55],[170,3.6],[80,3.7],[140,3.75],[200,3.8],[110,3.9],[170,3.95],[80,4.05],[140,4.1],[200,4.15],[110,4.25],[160,4.3],[120,4.45],[60,3.6],[260,3.1],
  [140,2.5],[110,2.65],[170,2.7],[140,2.8],[110,2.9],[170,2.95],[140,3.1],[110,3.25],[170,3.3],[140,3.45],[110,3.45],[140,3.6],[170,3.7],[110,3.8],[140,3.9],[110,4.0],[170,4.05],[140,4.2],
  [145,2.3],[140,2.55],[140,2.72],[140,2.9],[140,3.05],[140,3.22],[140,3.35],[140,3.52],[140,3.68],[140,3.82],[140,4.0],[140,4.15],[130,4.35]];
const MUKWE_NOV = [[120,2.3],[70,2.4],[170,2.4],[40,2.5],[120,2.55],[200,2.55],[80,2.65],[160,2.7],[250,2.7],[40,2.8],[120,2.85],[200,2.85],[80,2.95],[160,3.0],[240,3.05],[40,3.1],[120,3.15],[200,3.2],[80,3.3],[160,3.35],[290,3.3],[40,3.45],[120,3.45],[200,3.5],[80,3.6],[160,3.65],[40,3.75],[120,3.8],[200,3.85],[80,3.95],[160,4.0],[50,4.1],[120,4.15],[90,4.25],[130,4.35],
  [100,2.35],[150,2.45],[80,2.5],[140,2.6],[100,2.75],[180,2.78],[60,2.88],[140,2.92],[100,3.05],[180,3.1],[60,3.2],[140,3.25],[100,3.4],[180,3.42],[60,3.55],[140,3.55],[100,3.7],[170,3.75],[60,3.85],[140,3.9],[100,4.05],[80,4.15],
  [110,2.45],[120,2.62],[120,2.8],[100,2.92],[120,3.08],[100,3.25],[120,3.35],[100,3.5],[120,3.62],[100,3.8],[120,3.95],[110,4.1],[100,4.2]];
const MUKWE_DEC = [[120,2.3],[180,2.3],[80,2.4],[240,2.4],[140,2.45],[200,2.5],[60,2.55],[280,2.55],[110,2.6],[170,2.65],[240,2.7],[80,2.75],[140,2.8],[200,2.85],[280,2.85],[100,2.95],[170,3.0],[240,3.0],[70,3.1],[130,3.15],[200,3.15],[280,3.2],[100,3.3],[170,3.3],[240,3.35],[70,3.45],[130,3.5],[200,3.5],[100,3.6],[170,3.65],[260,3.65],[70,3.75],[130,3.8],[210,3.85],[100,3.95],[160,4.0],[120,4.1],[460,2.7],[585,2.7],[375,3.65],[420,3.85],[430,4.1],[230,4.35],[330,3.4],[350,2.75],
  [150,2.35],[100,2.45],[220,2.45],[170,2.55],[90,2.65],[210,2.6],[120,2.72],[170,2.75],[110,2.85],[240,2.8],[140,2.92],[200,2.95],[100,3.05],[160,3.1],[240,3.1],[130,3.22],[200,3.25],[90,3.38],[150,3.4],[220,3.42],[110,3.52],[170,3.55],[130,3.7],[190,3.72],[90,3.85],[150,3.9],[130,4.0],
  [130,2.38],[170,2.45],[130,2.55],[150,2.65],[200,2.7],[130,2.85],[170,2.9],[130,3.05],[200,3.05],[160,3.2],[130,3.35],[190,3.35],[140,3.45],[150,3.6],[110,3.68],[170,3.8],[120,3.88],[140,4.05]];

const RUNDU = [RUNDU_JAN, RUNDU_FEB, RUNDU_MAR, RUNDU_APR, RUNDU_MAY, RUNDU_JUN, RUNDU_JUL, RUNDU_AUG, RUNDU_SEP, RUNDU_OCT, RUNDU_NOV, RUNDU_DEC];
const MUKWE = [MUKWE_JAN, MUKWE_FEB, MUKWE_MAR, MUKWE_APR, MUKWE_MAY, MUKWE_JUN, MUKWE_JUL, MUKWE_AUG, MUKWE_SEP, MUKWE_OCT, MUKWE_NOV, MUKWE_DEC];
const SERIES = [RUNDU, MUKWE];

// ---- page geometry (pixels) ----
const W = 1166, H = 534;
const PANEL_LEFT = 91, PANEL_RIGHT = 1083;
const ROW_EDGES = [71.7, 256, 440.7];
const COL_W = (PANEL_RIGHT - PANEL_LEFT) / 12;
const FLOW_RANGE = [-22, 1401];
const LEVEL_RANGE = [8.93, 1.72];

const FONT = 'Liberation Sans, Arial, Helvetica, sans-serif';
const TICK_FONT = 'DejaVu Sans, Liberation Sans, sans-serif';
const INK = '#1a1a1a';
const FRAME = '#333333';
const GRID = '#d9d9d9';

const fx = x => x / W;
const fy = y => 1 - y / H;

const traces = [];
const layout = {
  width: W, height: H,
  margin: { l: 0, r: 0, t: 0, b: 0, pad: 0 },
  paper_bgcolor: '#ffffff', plot_bgcolor: '#ffffff',
  showlegend: false, hovermode: false,
  font: { family: FONT, color: INK, size: 11 },
  title: {
    text: 'Water flows (in cubic meters per second)',
    font: { family: FONT, size: 17, color: INK },
    x: fx(588), xanchor: 'center', xref: 'paper',
    y: fy(17), yanchor: 'middle', yref: 'container'
  },
  annotations: [],
};

for (let r = 0; r < 2; r++) {
  for (let c = 0; c < 12; c++) {
    const k = r * 12 + c + 1;
    const xa = 'xaxis' + (k === 1 ? '' : k), ya = 'yaxis' + (k === 1 ? '' : k);
    const xid = 'x' + (k === 1 ? '' : k), yid = 'y' + (k === 1 ? '' : k);
    const pts = SERIES[r][c];
    traces.push({
      type: 'scatter', mode: 'markers', xaxis: xid, yaxis: yid,
      x: pts.map(p => p[0]), y: pts.map(p => p[1]),
      marker: { symbol: 'circle-open', size: 7, color: '#000000', line: { width: 1.35 } },
      cliponaxis: false
    });
    const topTicks = (r === 0 && c % 2 === 0);
    const bottomTicks = (r === 1 && c % 2 === 1);
    const showX = topTicks || bottomTicks;
    layout[xa] = {
      domain: [fx(PANEL_LEFT + c * COL_W), fx(PANEL_LEFT + (c + 1) * COL_W)],
      anchor: yid, range: FLOW_RANGE, fixedrange: true,
      side: topTicks ? 'top' : 'bottom',
      tickmode: 'array', tickvals: FLOW_TICKS, ticktext: FLOW_TICK_TEXT,
      ticks: showX ? 'outside' : '', ticklen: 6, tickwidth: 1, tickcolor: FRAME,
      showticklabels: showX, tickangle: 0, ticklabelstandoff: 4,
      tickfont: { family: TICK_FONT, size: 12, color: INK },
      showgrid: true, gridcolor: GRID, gridwidth: 1, zeroline: false,
      showline: true, mirror: true, linecolor: FRAME, linewidth: 1.2
    };
    const rightTicks = (r === 0 && c === 11);
    const leftTicks = (r === 1 && c === 0);
    const showY = rightTicks || leftTicks;
    layout[ya] = {
      domain: [fy(ROW_EDGES[r + 1]), fy(ROW_EDGES[r])],
      anchor: xid, range: LEVEL_RANGE, fixedrange: true,
      side: rightTicks ? 'right' : 'left',
      tickmode: 'array', tickvals: LEVEL_TICKS,
      ticks: showY ? 'outside' : '', ticklen: 8, tickwidth: 1, tickcolor: FRAME,
      showticklabels: showY, tickangle: 90, ticklabelstandoff: 6,
      tickfont: { family: FONT, size: 11, color: INK },
      showgrid: true, gridcolor: GRID, gridwidth: 1, zeroline: false,
      showline: true, mirror: true, linecolor: FRAME, linewidth: 1.2
    };
  }
}

// month labels under the columns
MONTHS.forEach((m, c) => {
  layout.annotations.push({
    text: m, textangle: 90, showarrow: false,
    xref: 'paper', yref: 'paper',
    x: fx(PANEL_LEFT + (c + 0.5) * COL_W), y: fy(513),
    xanchor: 'center', yanchor: 'middle',
    font: { family: FONT, size: 15.5, color: INK }
  });
});

// station labels on the right
STATIONS.forEach((s, r) => {
  layout.annotations.push({
    text: s, textangle: 90, showarrow: false,
    xref: 'paper', yref: 'paper',
    x: fx(1141), y: fy((ROW_EDGES[r] + ROW_EDGES[r + 1]) / 2),
    xanchor: 'center', yanchor: 'middle',
    font: { family: FONT, size: 25, color: INK }
  });
});

// level axis title
layout.annotations.push({
  text: 'Water levels (in meters)', textangle: 90, showarrow: false,
  xref: 'paper', yref: 'paper',
  x: fx(21), y: fy(258), xanchor: 'center', yanchor: 'middle',
  font: { family: FONT, size: 17, color: INK }
});

// widen a drawn text group horizontally about its own centre
function widen(el, k) {
  if (!el) return;
  const bb = el.getBBox();
  const cx = bb.x + bb.width / 2;
  el.setAttribute('transform', 'translate(' + cx + ' 0) scale(' + k + ' 1) translate(' + (-cx) + ' 0)');
}

Plotly.newPlot('plot', traces, layout, { staticPlot: true, displayModeBar: false }).then(gd => {
  widen(gd.querySelector('.g-gtitle'), 1.45);
  gd.querySelectorAll('g.annotation').forEach(g => {
    const i = +g.getAttribute('data-index');
    if (i < MONTHS.length) widen(g, 1.45);
  });
});
</script>
</body>
</html>
